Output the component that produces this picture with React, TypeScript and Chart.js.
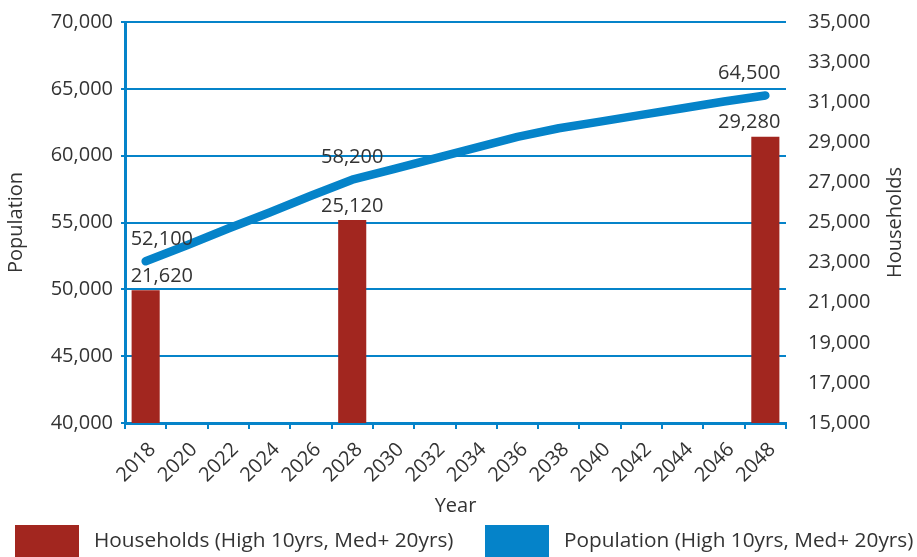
import React, { useEffect, useRef } from 'react';
import { Chart, registerables } from 'chart.js';

Chart.register(...registerables);

// ---- data ----
const years = ['2018', '2020', '2022', '2024', '2026', '2028', '2030', '2032', '2034', '2036', '2038', '2040', '2042', '2044', '2046', '2048'];
const households = [21620, null, null, null, null, 25120, null, null, null, null, null, null, null, null, null, 29280];
const population = [52100, 53300, 54550, 55750, 57000, 58200, 59000, 59800, 60600, 61400, 62050, 62550, 63050, 63550, 64050, 64500];
const householdsLabelIdx = [0, 5, 15];
const populationLabelIdx = [0, 5, 15];
const seriesNames = ['Households (High 10yrs, Med+ 20yrs)', 'Population (High 10yrs, Med+ 20yrs)'];
const popTicks = { min: 40000, max: 70000, step: 5000 };
const hhTicks = { min: 15000, max: 35000, step: 2000 };
const axisTitles = { x: 'Year', left: 'Population', right: 'Households' };

// ---- styles ----
const RED = '#A2261F';
const BLUE = '#0583C9';
const TEXT = '#333333';
const FONT = '"Open Sans", "Noto Sans", sans-serif';
const FS = 20;
const LEGEND_FS = 20.8;

const fmt = (v: number) => Number(v).toLocaleString('en-US');

const valueLabels = {
  id: 'valueLabels',
  afterDatasetsDraw(chart: any) {
    const ctx = chart.ctx;
    const idxSets = [householdsLabelIdx, populationLabelIdx];
    ctx.save();
    ctx.font = `${FS}px ${FONT}`;
    ctx.fillStyle = TEXT;
    ctx.textBaseline = 'middle';
    chart.data.datasets.forEach((ds: any, di: number) => {
      const meta = chart.getDatasetMeta(di);
      const idxs = idxSets[di];
      const isBar = ds.type === 'bar';
      idxs.forEach((j: number, k: number) => {
        const el: any = meta.data[j];
        if (!el) return;
        const half = 15;
        const align = k === 0 ? 'left' : k === idxs.length - 1 ? 'right' : 'center';
        const x = el.x + (align === 'left' ? -half : align === 'right' ? half : 0);
        const y = el.y - (isBar ? 14 : 22);
        ctx.textAlign = align;
        ctx.fillText(fmt(ds.data[j]), x, y);
      });
    });
    ctx.restore();
  },
};

const extras = {
  id: 'extras',
  afterDraw(chart: any) {
    const ctx = chart.ctx;
    const area = chart.chartArea;
    ctx.save();
    ctx.font = `${FS}px ${FONT}`;
    ctx.fillStyle = TEXT;
    // right axis title, reading bottom-to-top
    ctx.translate(895, (area.top + area.bottom) / 2);
    ctx.rotate(-Math.PI / 2);
    ctx.textAlign = 'center';
    ctx.textBaseline = 'middle';
    ctx.fillText(axisTitles.right, 0, 0);
    ctx.restore();

    // legend
    ctx.save();
    ctx.font = `${LEGEND_FS}px ${FONT}`;
    ctx.textBaseline = 'middle';
    ctx.textAlign = 'left';
    const starts = [15, 485];
    chart.data.datasets.forEach((ds: any, i: number) => {
      const x0 = starts[i];
      ctx.fillStyle = ds.type === 'bar' ? ds.backgroundColor : ds.borderColor;
      ctx.fillRect(x0, 525, 64, 32);
      ctx.fillStyle = TEXT;
      ctx.fillText(ds.label, x0 + 79, 541);
    });
    ctx.restore();
  },
};

export default function App() {
  const ref = useRef<HTMLCanvasElement | null>(null);
  useEffect(() => {
    if (!ref.current) return;
    const chart = new Chart(ref.current, {
      type: 'bar',
      data: {
        labels: years,
        datasets: [
          {
            type: 'bar',
            label: seriesNames[0],
            data: households,
            backgroundColor: RED,
            yAxisID: 'y2',
            categoryPercentage: 1,
            barPercentage: 0.68,
            order: 2,
          } as any,
          {
            type: 'line',
            label: seriesNames[1],
            data: population,
            borderColor: BLUE,
            backgroundColor: BLUE,
            borderWidth: 8.5,
            pointRadius: 0,
            borderCapStyle: 'round',
            borderJoinStyle: 'round',
            tension: 0,
            yAxisID: 'y',
            order: 1,
          } as any,
        ],
      },
      options: {
        animation: false,
        responsive: true,
        maintainAspectRatio: false,
        layout: { padding: { top: 22, bottom: 39, left: 0, right: 0 } },
        plugins: { legend: { display: false }, tooltip: { enabled: false } },
        font: { family: FONT },
        scales: {
          x: {
            type: 'category',
            offset: true,
            grid: { offset: true, drawOnChartArea: false, color: BLUE, lineWidth: 2, tickLength: 6 },
            border: { color: BLUE, width: 3 },
            ticks: { minRotation: 45, maxRotation: 45, color: TEXT, font: { size: FS, family: FONT }, padding: 9, labelOffset: 7, autoSkip: false },
            title: { display: true, text: axisTitles.x, color: TEXT, font: { size: FS, family: FONT }, padding: { top: 0, bottom: 0 } },
            afterFit: (s: any) => { s.height = 95; },
          },
          y: {
            position: 'left',
            min: popTicks.min,
            max: popTicks.max,
            ticks: { stepSize: popTicks.step, color: TEXT, font: { size: FS, family: FONT }, padding: 8, callback: (v: any) => fmt(v) },
            grid: { color: BLUE, lineWidth: 2, tickLength: 4 },
            border: { color: BLUE, width: 3 },
            title: { display: true, text: axisTitles.left, color: TEXT, font: { size: FS, family: FONT }, padding: { top: 4, bottom: 4 } },
            afterFit: (s: any) => { s.width = 125; },
          },
          y2: {
            position: 'right',
            min: hhTicks.min,
            max: hhTicks.max,
            ticks: { stepSize: hhTicks.step, color: TEXT, font: { size: FS, family: FONT }, padding: 2, callback: (v: any) => fmt(v) },
            grid: { display: true, drawOnChartArea: false, drawTicks: true, tickLength: 20, color: 'rgba(0,0,0,0)' },
            border: { display: false },
            afterFit: (s: any) => { s.width = 131; },
          },
        },
      },
      plugins: [valueLabels, extras],
    });
    return () => chart.destroy();
  }, []);
  return (
    <div style={{ position: 'fixed', left: 0, top: 0, width: 917, height: 557 }}>
      <canvas ref={ref} />
    </div>
  );
}
